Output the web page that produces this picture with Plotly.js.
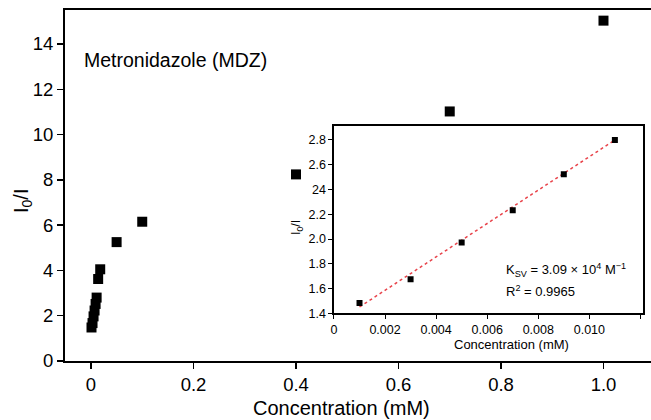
<!DOCTYPE html>
<html>
<head>
<meta charset="utf-8">
<script src="https://cdn.plot.ly/plotly-3.0.1.min.js"></script>
<style>
  html, body { margin: 0; padding: 0; background: #fff; overflow: hidden; }
  #chart { width: 651px; height: 420px; }
</style>
</head>
<body>
<div id="chart"></div>
<script>
// Main plot data (concentration in mM, I0/I)
const mainConc = [0.001, 0.003, 0.005, 0.007, 0.009, 0.011, 0.014, 0.018, 0.05, 0.1, 0.4, 0.7, 1.0];
const mainRatio = [1.48, 1.675, 1.97, 2.23, 2.52, 2.80, 3.62, 4.05, 5.25, 6.15, 8.24, 11.02, 15.03];

// Inset (linear region) data
const insetConc = [0.001, 0.003, 0.005, 0.007, 0.009, 0.011];
const insetRatio = [1.483, 1.675, 1.972, 2.232, 2.523, 2.80];

// Fitted line endpoints
const fitConc = [0.001, 0.011];
const fitRatio = [1.451, 2.80];

// Tick labels
const mainXTicks = [0, 0.2, 0.4, 0.6, 0.8, 1.0];
const mainXTickText = ["0", "0.2", "0.4", "0.6", "0.8", "1.0"];
const mainYTicks = [0, 2, 4, 6, 8, 10, 12, 14];
const insetXTicks = [0, 0.002, 0.004, 0.006, 0.008, 0.010, 0.012];
const insetXTickText = ["0", "0.002", "0.004", "0.006", "0.008", "0.010", "0.012"];
const insetYTicks = [1.4, 1.6, 1.8, 2.0, 2.2, 2.4, 2.6, 2.8];
const insetYTickText = ["1.4", "1.6", "1.8", "2.0", "2.2", "24", "2.6", "2.8"];

const FONT = "Liberation Sans, Arial, Helvetica, sans-serif";

const traces = [
  {
    x: mainConc, y: mainRatio, type: "scatter", mode: "markers",
    marker: { symbol: "square", size: 10, color: "#000" },
    xaxis: "x", yaxis: "y", hoverinfo: "skip"
  },
  {
    x: fitConc, y: fitRatio, type: "scatter", mode: "lines",
    line: { color: "#e8434a", width: 1.5, dash: "dot" },
    xaxis: "x2", yaxis: "y2", hoverinfo: "skip"
  },
  {
    x: insetConc, y: insetRatio, type: "scatter", mode: "markers",
    marker: { symbol: "square", size: 6, color: "#000" },
    xaxis: "x2", yaxis: "y2", hoverinfo: "skip"
  }
];

const layout = {
  width: 651, height: 420,
  margin: { l: 65, r: 0, t: 10, b: 59 },
  paper_bgcolor: "#fff", plot_bgcolor: "#fff",
  showlegend: false,
  font: { family: FONT, color: "#000" },
  xaxis: {
    range: [-0.0507, 1.0927],
    tickvals: mainXTicks, ticktext: mainXTickText,
    ticks: "outside", ticklen: 6, tickwidth: 1.5, tickcolor: "#000",
    showline: true, linecolor: "#000", linewidth: 2, mirror: true,
    showgrid: false, zeroline: false,
    tickfont: { size: 18.5, family: FONT, color: "#000" }
  },
  yaxis: {
    range: [0, 15.5],
    tickvals: mainYTicks,
    ticks: "outside", ticklen: 6, tickwidth: 1.5, tickcolor: "#000",
    showline: true, linecolor: "#000", linewidth: 2, mirror: false,
    showgrid: false, zeroline: false,
    tickfont: { size: 18.5, family: FONT, color: "#000" }
  },
  xaxis2: {
    domain: [0.459, 0.9863], anchor: "y2",
    range: [0, 0.0121],
    tickvals: insetXTicks, ticktext: insetXTickText,
    ticks: "outside", ticklen: 4, tickwidth: 1, tickcolor: "#000",
    showline: true, linecolor: "#000", linewidth: 1.6, mirror: true,
    showgrid: false, zeroline: false,
    tickfont: { size: 12.5, family: FONT, color: "#000" }
  },
  yaxis2: {
    domain: [0.1359, 0.6695], anchor: "x2",
    range: [1.4, 2.913],
    tickvals: insetYTicks, ticktext: insetYTickText,
    ticks: "outside", ticklen: 4, tickwidth: 1, tickcolor: "#000",
    showline: true, linecolor: "#000", linewidth: 1.6, mirror: true,
    showgrid: false, zeroline: false,
    tickfont: { size: 12.5, family: FONT, color: "#000" }
  },
  annotations: [
    { text: "Metronidazole (MDZ)", xref: "paper", yref: "paper",
      x: (82 - 65) / 586, y: (361 - 60) / 351, xanchor: "left", yanchor: "middle",
      showarrow: false, font: { size: 19.5, family: FONT, color: "#000" } },
    { text: "Concentration (mM)", xref: "paper", yref: "paper",
      x: (341 - 65) / 586, y: (361 - 408) / 351, xanchor: "center", yanchor: "middle",
      showarrow: false, font: { size: 20, family: FONT, color: "#000" } },
    { text: "I<sub>0</sub>/I", xref: "paper", yref: "paper", textangle: -90,
      x: (22 - 65) / 586, y: (361 - 201) / 351, xanchor: "center", yanchor: "middle",
      showarrow: false, font: { size: 20, family: FONT, color: "#000" } },
    { text: "Concentration (mM)", xref: "paper", yref: "paper",
      x: (511 - 65) / 586, y: (361 - 344) / 351, xanchor: "center", yanchor: "middle",
      showarrow: false, font: { size: 13, family: FONT, color: "#000" } },
    { text: "I<sub>0</sub>/I", xref: "paper", yref: "paper", textangle: -90,
      x: (297 - 65) / 586, y: (361 - 228) / 351, xanchor: "center", yanchor: "middle",
      showarrow: false, font: { size: 12.5, family: FONT, color: "#000" } },
    { text: "K<sub>SV</sub> = 3.09 × 10<sup>4</sup> M<sup>−1</sup>", xref: "paper", yref: "paper",
      x: (504 - 65) / 586, y: (361 - 270) / 351, xanchor: "left", yanchor: "middle",
      showarrow: false, font: { size: 13, family: FONT, color: "#000" } },
    { text: "R<sup>2</sup> = 0.9965", xref: "paper", yref: "paper",
      x: (504 - 65) / 586, y: (361 - 291) / 351, xanchor: "left", yanchor: "middle",
      showarrow: false, font: { size: 13, family: FONT, color: "#000" } }
  ]
};

Plotly.newPlot("chart", traces, layout, { staticPlot: true, displayModeBar: false });
</script>
</body>
</html>
